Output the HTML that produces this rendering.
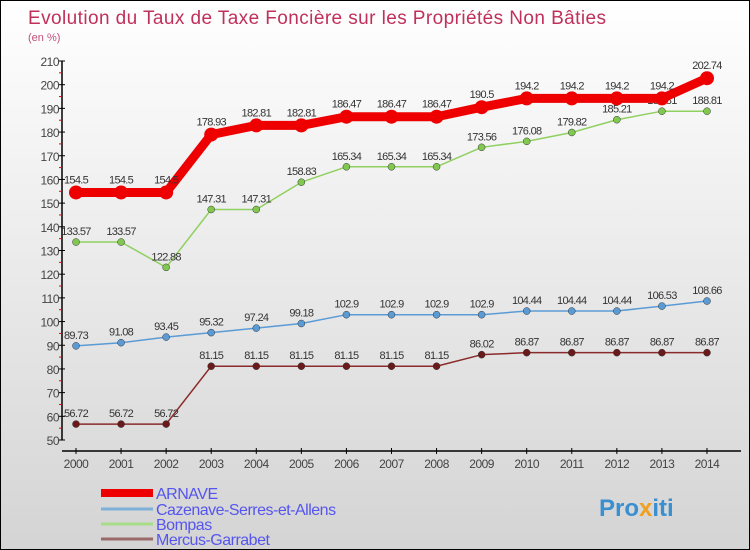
<!DOCTYPE html>
<html><head><meta charset="utf-8"><style>
body{margin:0;}
#c{width:750px;height:550px;position:relative;box-sizing:border-box;border:1px solid #000;background:linear-gradient(#ffffff,#d4d4d4);font-family:"Liberation Sans",sans-serif;overflow:hidden}
svg text{font-family:"Liberation Sans",sans-serif;}
</style></head><body>
<div id="c">
<svg id="s" width="750" height="550">
<text x="27" y="23" font-size="19" fill="#c0305a" textLength="578">Evolution du Taux de Taxe Foncière sur les Propriétés Non Bâties</text>
<text x="27" y="40" font-size="11" fill="#c0507a">(en %)</text>
<text x="598" y="515" font-size="24" font-weight="bold" fill="#3a8fd0">Pro<tspan fill="#f0a020">x</tspan>iti</text>
</svg>
</div>
<script>
const years=[2000,2001,2002,2003,2004,2005,2006,2007,2008,2009,2010,2011,2012,2013,2014];
const arnave=[154.5,154.5,154.5,178.93,182.81,182.81,186.47,186.47,186.47,190.5,194.2,194.2,194.2,194.2,202.74];
const cazenave=[89.73,91.08,93.45,95.32,97.24,99.18,102.9,102.9,102.9,102.9,104.44,104.44,104.44,106.53,108.66];
const bompas=[133.57,133.57,122.88,147.31,147.31,158.83,165.34,165.34,165.34,173.56,176.08,179.82,185.21,188.81,188.81];
const mercus=[56.72,56.72,56.72,81.15,81.15,81.15,81.15,81.15,81.15,86.02,86.87,86.87,86.87,86.87,86.87];
const yTicks=[50,60,70,80,90,100,110,120,130,140,150,160,170,180,190,200,210];
const names=["ARNAVE","Cazenave-Serres-et-Allens","Bompas","Mercus-Garrabet"];
const NS="http://www.w3.org/2000/svg";
const svg=document.getElementById('s');
const X=i=>75+i*45.07;
const Y=v=>439-(v-50)*(379/160);
function el(t,a,p){const e=document.createElementNS(NS,t);for(const k in a)e.setAttribute(k,a[k]);(p||svg).appendChild(e);return e;}
let ax=el('line',{x1:61,y1:Y(210),x2:61,y2:Y(50),stroke:'#000','stroke-width':1.5});

yTicks.forEach(v=>{
 el('line',{x1:58,x2:64,y1:Y(v),y2:Y(v),stroke:'#000'});
 if(v<210) el('line',{x1:58,x2:61,y1:Y(v+5),y2:Y(v+5),stroke:'#e00'});
 const t=el('text',{x:58,y:Y(v)+5,'text-anchor':'end','font-size':12,fill:'#444','letter-spacing':'-0.5'});t.textContent=v;
 
});
let xa=el('line',{x1:61,y1:450,x2:740,y2:450,stroke:'#000','stroke-width':1.5});

years.forEach((y,i)=>{
 el('line',{x1:X(i),x2:X(i),y1:447,y2:453,stroke:'#000'});
 const t=el('text',{x:X(i),y:467,'text-anchor':'middle','font-size':12,fill:'#444','letter-spacing':'-0.5'});t.textContent=y;
 
});
function series(data,color,w,r,dot,name){
 const g=el('g',{});
 
 el('polyline',{points:data.map((v,i)=>X(i)+','+Y(v)).join(' '),fill:'none',stroke:color,'stroke-width':w,'stroke-linejoin':'round'},g);
 data.forEach((v,i)=>{
  const c=el('circle',{cx:X(i),cy:Y(v),r:r,fill:dot,stroke:'#333','stroke-width':r>5?0:0.5},g);
  
  const t=el('text',{x:X(i),y:Y(v)-(r>5?9:7),'text-anchor':'middle','font-size':11,fill:'#333','letter-spacing':'-0.7'},g);
  t.textContent=String(v);
  
 });
}
series(mercus,'#8b2a2a',1.5,3.5,'#6a1a1a','series-mercus');
series(cazenave,'#5b9bd5',1.5,3.5,'#5b9bd5','series-cazenave');
series(bompas,'#90d060',1.5,3.5,'#80c850','series-bompas');
series(arnave,'#ee0000',9,7,'#ee0000','series-arnave');
const lc=['#ee0000','#7fb0d8','#a8dc88','#9a6a6a'],lw=[8,3,3,3],ly=[492,508,523,538];
names.forEach((n,i)=>{
 const g=el('g',{});
 el('line',{x1:100,x2:152,y1:ly[i],y2:ly[i],stroke:lc[i],'stroke-width':lw[i]},g);
 const t=el('text',{x:155,y:ly[i]+6,'font-size':16,fill:'#5555ee','letter-spacing':'-0.5'},g);t.textContent=n;
});
</script>
</body></html>
